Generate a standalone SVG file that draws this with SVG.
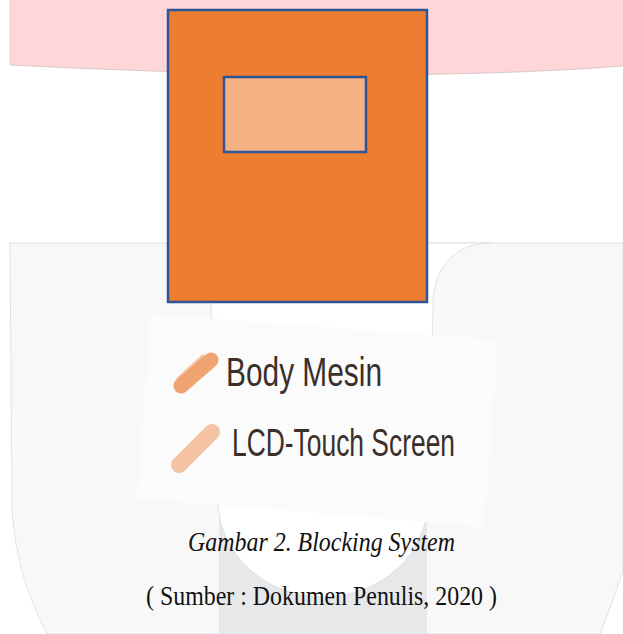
<svg xmlns="http://www.w3.org/2000/svg" width="623" height="634" viewBox="0 0 623 634">
  <style>
    .edge { stroke: #DCDCDC; stroke-width: 0.8; }
    .block { stroke: #2F5597; stroke-width: 2.5; }
    .hand { font-family: "Liberation Sans Narrow", "Liberation Sans", "DejaVu Sans", sans-serif; fill: #3A2F2A; }
    .cap { font-family: "Liberation Serif", "Times New Roman", serif; fill: #111111; font-size: 27px; }
  </style>
  <rect width="623" height="634" fill="#FFFFFF"/>
  <g id="watermark">
    <path d="M10,243 H623 V570 C616,592 608,614 600,634 H47 C30,600 16,565 12,510 Z" fill="#F8F8F8" class="edge"/>
    <rect x="219" y="470" width="208" height="164" fill="#E7E8EA"/>
    <path d="M211,243 H490 C455,243 433,268 433,305 L428,500 A105,97 0 0 1 218,500 L211,305 Z" fill="#FFFFFF" class="edge"/>
    <path d="M10,0 H623 V66 Q390,84 10,65 Z" fill="#FFD7D9"/>
    <path d="M623,66 Q390,84 10,65" fill="none" stroke="#CFC0C0" stroke-width="0.8"/>
    <path d="M10,0 V65" stroke="#D8D0D0" stroke-width="0.8"/>
  </g>
  <g id="body-mesin">
    <rect x="168" y="10" width="259" height="292" fill="#ED7D31" class="block"/>
  </g>
  <g id="lcd-touch-screen">
    <rect x="224" y="77" width="142" height="75" fill="#F4B183" class="block"/>
  </g>
  <g id="legend">
    <polygon points="151,314 498,340 484,527 137,498" fill="#FBFBFB"/>
    <g id="legend-body">
      <path d="M181,386 L211,360" stroke="#F0A472" stroke-width="15" stroke-linecap="round" fill="none"/>
      <path d="M178,380 L203,357" stroke="#EFA06C" stroke-width="5" stroke-linecap="round" fill="none" opacity="0.6"/>
      <text class="hand" x="226" y="386" font-size="40" textLength="156" lengthAdjust="spacingAndGlyphs">Body Mesin</text>
    </g>
    <g id="legend-lcd">
      <path d="M179,465 L212,432" stroke="#F5C4A4" stroke-width="16" stroke-linecap="round" fill="none"/>
      <path d="M184,458 L214,428" stroke="#F3BB98" stroke-width="4" stroke-linecap="round" fill="none" opacity="0.5"/>
      <text class="hand" x="232" y="456" font-size="39" textLength="223" lengthAdjust="spacingAndGlyphs">LCD-Touch Screen</text>
    </g>
  </g>
  <g id="captions">
    <text class="cap" x="188" y="551" font-style="italic" textLength="267" lengthAdjust="spacingAndGlyphs">Gambar 2. Blocking System</text>
    <text class="cap" x="146" y="605" textLength="351" lengthAdjust="spacingAndGlyphs">( Sumber : Dokumen Penulis, 2020 )</text>
  </g>
  <g id="connectors"></g>
</svg>
